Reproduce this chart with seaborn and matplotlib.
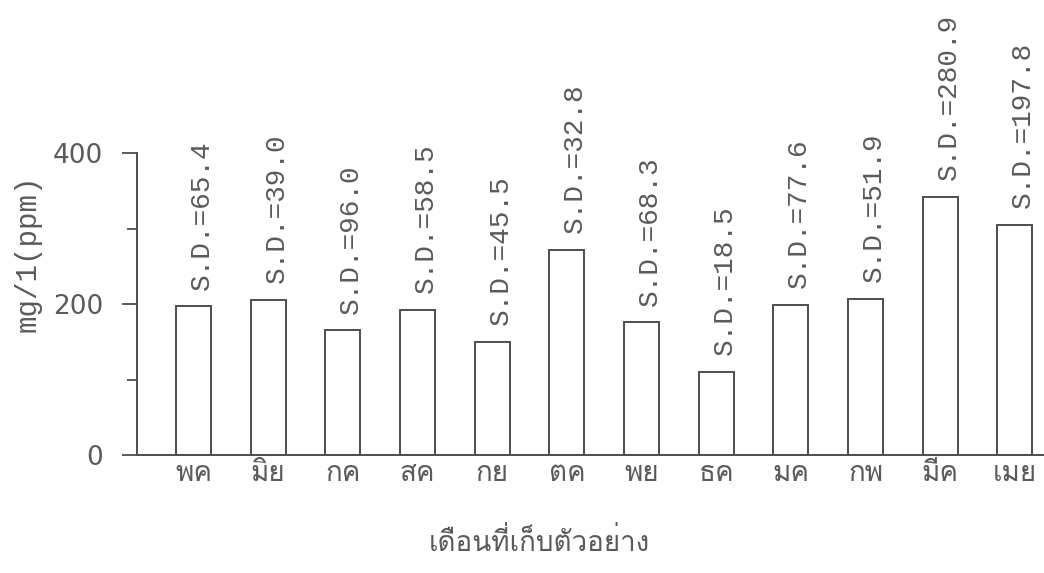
import matplotlib
matplotlib.use("Agg")
import matplotlib.pyplot as plt
import seaborn as sns
import pandas as pd
from matplotlib import font_manager, ft2font
from matplotlib.ticker import FixedLocator

months = ["พค", "มิย", "กค", "สค", "กย", "ตค", "พย", "ธค", "มค", "กพ", "มีค", "เมย"]
means = [197, 206, 165, 192, 150, 272, 176, 110, 199, 207, 342, 305]
sds = [65.4, 39.0, 96.0, 58.5, 45.5, 32.8, 68.3, 18.5, 77.6, 51.9, 280.9, 197.8]
y_major = [0, 200, 400]
y_minor = [100, 300]
x_title = "เดือนที่เก็บตัวอย่าง"
y_title = "mg/1(ppm)"


def has_thai(path):
    try:
        return 0x0E01 in ft2font.FT2Font(path).get_charmap()
    except Exception:
        return False


# pick an installed family that actually covers Thai
thai_fonts = []
for f in font_manager.fontManager.ttflist:
    if f.name not in thai_fonts and has_thai(f.fname):
        thai_fonts.append(f.name)
thai_family = thai_fonts[:1] + ["DejaVu Sans"]

sns.set_style("white")
plt.rcParams["font.family"] = ["DejaVu Sans"]

ink = "#4d4d4d"
text_ink = "#5a5a5a"

df = pd.DataFrame({"month": months, "value": means})

fig = plt.figure(figsize=(10.44, 5.73), dpi=100)
ax = fig.add_axes([0.131, 0.206, 0.869, 0.794])

sns.barplot(data=df, x="month", y="value", order=months, color="white",
            edgecolor=ink, linewidth=1.4, width=0.47, ax=ax, saturation=1)

ax.set_xlim(-0.76, 11.39)
ax.set_ylim(0, 603)

for side in ["top", "right"]:
    ax.spines[side].set_visible(False)
ax.spines["left"].set_bounds(0, 400)
for side in ["left", "bottom"]:
    ax.spines[side].set_color(ink)
    ax.spines[side].set_linewidth(1.4)

ax.yaxis.set_major_locator(FixedLocator(y_major))
ax.yaxis.set_minor_locator(FixedLocator(y_minor))
ax.tick_params(axis="y", which="major", direction="out", length=11, width=1.3,
               color=ink, pad=13, labelsize=19, labelcolor=text_ink, left=True)
ax.tick_params(axis="y", which="minor", direction="out", length=7, width=1.3,
               color=ink, left=True)
ax.tick_params(axis="x", length=0, pad=4)
for lab in ax.get_xticklabels():
    lab.set_family(thai_family)
    lab.set_fontsize(20)
    lab.set_color(text_ink)

for i, (m, s) in enumerate(zip(means, sds)):
    ax.annotate(f"S.D.={s:.1f}", xy=(i, m), xytext=(6, 12),
                textcoords="offset points", rotation=90, ha="center",
                va="bottom", family="Liberation Mono", fontsize=20,
                color=text_ink, annotation_clip=False)

ax.set_xlabel(x_title, family=thai_family, fontsize=20, color=text_ink)
ax.xaxis.set_label_coords(0.444, -0.16)
ax.set_ylabel(y_title, family="Liberation Mono", fontsize=21, color=text_ink)
ax.yaxis.set_label_coords(-0.105, 0.444)

fig.savefig("out.png", dpi=100)
